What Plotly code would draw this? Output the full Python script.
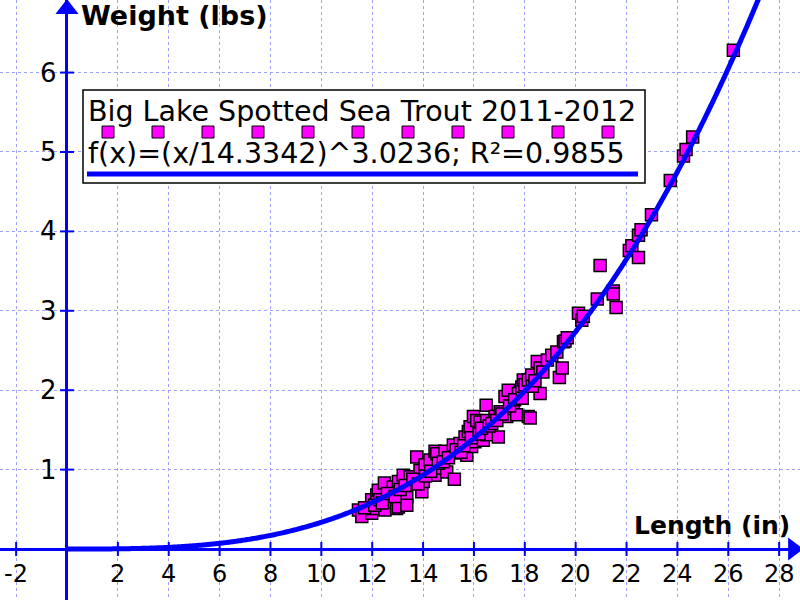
import numpy as np
import plotly.graph_objects as go

# ---------------- data ----------------
lengths = [11.46, 11.59, 11.98, 11.98, 12.04, 12.18, 12.24, 12.48, 12.50, 12.70,
           12.83, 12.96, 13.03, 13.03, 13.22, 13.36, 13.36, 13.49, 13.75, 13.88,
           13.95, 14.01, 14.08, 14.27, 14.47, 14.47, 14.54, 14.67, 14.86, 14.93,
           15.19, 15.23, 15.32, 15.45, 15.65, 15.72, 15.78, 15.85, 15.91, 15.98,
           16.04, 16.11, 16.24, 16.37, 16.48, 16.50, 16.50, 16.83, 16.96, 17.03,
           17.22, 17.29, 17.35, 17.55, 17.68, 17.75, 17.88, 17.94, 18.01, 18.14,
           18.14, 18.21, 18.27, 18.49, 18.60, 18.60, 18.71, 18.89, 19.06, 19.26,
           19.36, 19.47, 19.52, 19.58, 19.67, 20.11, 20.24, 20.30, 20.85, 20.96,
           21.48, 21.48, 21.59, 22.11, 22.21, 22.47, 22.47, 22.57, 22.98, 23.72,
           24.24, 24.34, 24.60, 26.20,
           11.70, 12.10, 12.30, 12.40, 12.60, 12.90, 13.10, 13.30, 13.60, 13.80,
           14.10, 14.30, 14.60, 14.80, 15.00, 15.30, 15.50, 15.60, 15.90, 16.20,
           16.30, 16.60, 16.70, 16.90, 17.10, 17.40, 17.60, 17.90, 18.30, 18.40]
weights = [0.49, 0.41, 0.62, 0.45, 0.51, 0.68, 0.74, 0.83, 0.49, 0.60,
           0.78, 0.51, 0.85, 0.53, 0.93, 0.66, 0.55, 0.91, 1.16, 0.99,
           0.72, 0.85, 1.06, 1.12, 0.93, 1.23, 1.20, 1.02, 1.23, 0.97,
           1.31, 0.88, 1.21, 1.33, 1.41, 1.18, 1.48, 1.54, 1.29, 1.67,
           1.35, 1.62, 1.60, 1.37, 1.81, 1.62, 1.44, 1.67, 1.41, 1.73,
           1.92, 1.67, 2.00, 1.77, 1.69, 1.96, 2.04, 2.13, 2.07, 2.13,
           1.67, 1.65, 2.19, 2.36, 2.28, 1.96, 2.23, 2.38, 2.44, 2.48,
           2.16, 2.28, 2.61, 2.62, 2.66, 2.97, 2.88, 2.93, 3.15, 3.57,
           3.25, 3.21, 3.04, 3.76, 3.82, 3.95, 3.67, 4.02, 4.21, 4.64,
           4.95, 5.03, 5.19, 6.28,
           0.52, 0.55, 0.62, 0.58, 0.70, 0.66, 0.75, 0.80, 0.88, 0.82,
           0.92, 0.98, 1.08, 1.10, 1.15, 1.25, 1.22, 1.30, 1.40, 1.45,
           1.52, 1.55, 1.58, 1.62, 1.70, 1.80, 1.88, 1.90, 2.05, 2.12]

fit_scale = 14.3342
fit_power = 3.0236
x_tick_values = [-2, 2, 4, 6, 8, 10, 12, 14, 16, 18, 20, 22, 24, 26, 28]
y_tick_values = [1, 2, 3, 4, 5, 6]
legend_title = "Big Lake Spotted Sea Trout 2011-2012"
legend_fit = "f(x)=(x/14.3342)^3.0236; R²=0.9855"
x_title = "Length (in)"
y_title = "Weight (lbs)"

# ---------------- layout constants ----------------
W, H = 800, 600
X_RANGE = [-2.634, 28.82]
Y_RANGE = [-0.642, 6.914]
BLUE = "#0000ff"
MAGENTA = "#ff00ff"
FONT = "DejaVu Sans"


def px(x):
    return x / W


def py(y):
    return 1 - y / H


fig = go.Figure()

# data points
fig.add_trace(go.Scatter(x=lengths, y=weights, mode="markers",
                         marker=dict(symbol="square", size=12, color=MAGENTA,
                                     line=dict(color="black", width=1.5))))

# fit curve (drawn over the points, as in the reference)
xc = np.linspace(0, 28.5, 600)
yc = (xc / fit_scale) ** fit_power
fig.add_trace(go.Scatter(x=xc, y=yc, mode="lines",
                         line=dict(color=BLUE, width=5, simplify=False),
                         hoverinfo="skip"))

# axis ticks
fig.add_trace(go.Scatter(x=x_tick_values, y=[0] * len(x_tick_values), mode="markers",
                         marker=dict(symbol="line-ns", size=10,
                                     line=dict(color=BLUE, width=2)),
                         cliponaxis=False, hoverinfo="skip"))
fig.add_trace(go.Scatter(x=[0] * len(y_tick_values), y=y_tick_values, mode="markers",
                         marker=dict(symbol="line-ew", size=10,
                                     line=dict(color=BLUE, width=2)),
                         cliponaxis=False, hoverinfo="skip"))

# axis arrows
fig.add_trace(go.Scatter(x=[0], y=[6.80], mode="markers",
                         marker=dict(symbol="triangle-up", size=20, color=BLUE),
                         cliponaxis=False, hoverinfo="skip"))
fig.add_trace(go.Scatter(x=[28.55], y=[0], mode="markers",
                         marker=dict(symbol="triangle-right", size=20, color=BLUE),
                         cliponaxis=False, hoverinfo="skip"))

annotations = []
for v in x_tick_values:
    annotations.append(dict(x=v, y=0, xref="x", yref="y", text=str(v),
                            showarrow=False, yshift=-25, xanchor="center",
                            yanchor="middle", font=dict(family=FONT, size=24, color="black")))
for v in y_tick_values:
    annotations.append(dict(x=0, y=v, xref="x", yref="y", text=str(v),
                            showarrow=False, xshift=-8, xanchor="right",
                            yanchor="middle", font=dict(family=FONT, size=26, color="black")))

annotations.append(dict(x=px(79), y=py(15), xref="paper", yref="paper",
                        text="<b>" + y_title + "</b>", showarrow=False,
                        xanchor="left", yanchor="middle",
                        font=dict(family=FONT, size=27, color="black")))
annotations.append(dict(x=px(792), y=py(525), xref="paper", yref="paper",
                        text="<b>" + x_title + "</b>", showarrow=False,
                        xanchor="right", yanchor="middle",
                        font=dict(family=FONT, size=25, color="black")))

annotations.append(dict(x=px(86), y=py(111), xref="paper", yref="paper",
                        text=legend_title, showarrow=False,
                        xanchor="left", yanchor="middle",
                        font=dict(family=FONT, size=28.5, color="black")))
annotations.append(dict(x=px(86), y=py(153), xref="paper", yref="paper",
                        text=legend_fit, showarrow=False,
                        xanchor="left", yanchor="middle",
                        font=dict(family=FONT, size=28.5, color="black")))

shapes = [dict(type="rect", xref="paper", yref="paper",
               x0=px(83), x1=px(645), y0=py(90), y1=py(183),
               line=dict(color="black", width=1.5), fillcolor="white", layer="above")]
for i in range(11):
    cx = 108 + 50 * i
    shapes.append(dict(type="rect", xref="paper", yref="paper",
                       x0=px(cx - 6), x1=px(cx + 6), y0=py(126), y1=py(138),
                       line=dict(color="black", width=1), fillcolor=MAGENTA, layer="above"))
shapes.append(dict(type="line", xref="paper", yref="paper",
                   x0=px(87), x1=px(638), y0=py(174), y1=py(174),
                   line=dict(color=BLUE, width=5), layer="above"))

axis_common = dict(showgrid=True, gridcolor="#a0a0ff", griddash="dot", gridwidth=1,
                   zeroline=True, zerolinecolor=BLUE, zerolinewidth=3,
                   showticklabels=False, ticks="", showline=False, fixedrange=True,
                   automargin=False)

fig.update_layout(
    width=W, height=H,
    margin=dict(l=0, r=0, t=0, b=0, pad=0, autoexpand=False),
    paper_bgcolor="white", plot_bgcolor="white",
    showlegend=False,
    xaxis=dict(range=X_RANGE, dtick=2, tick0=0, **axis_common),
    yaxis=dict(range=Y_RANGE, dtick=1, tick0=0, **axis_common),
    annotations=annotations,
    shapes=shapes,
)

fig.write_html("out.html", config={"displayModeBar": False},
               post_script="document.body.style.margin='0';document.body.style.overflow='hidden';")
